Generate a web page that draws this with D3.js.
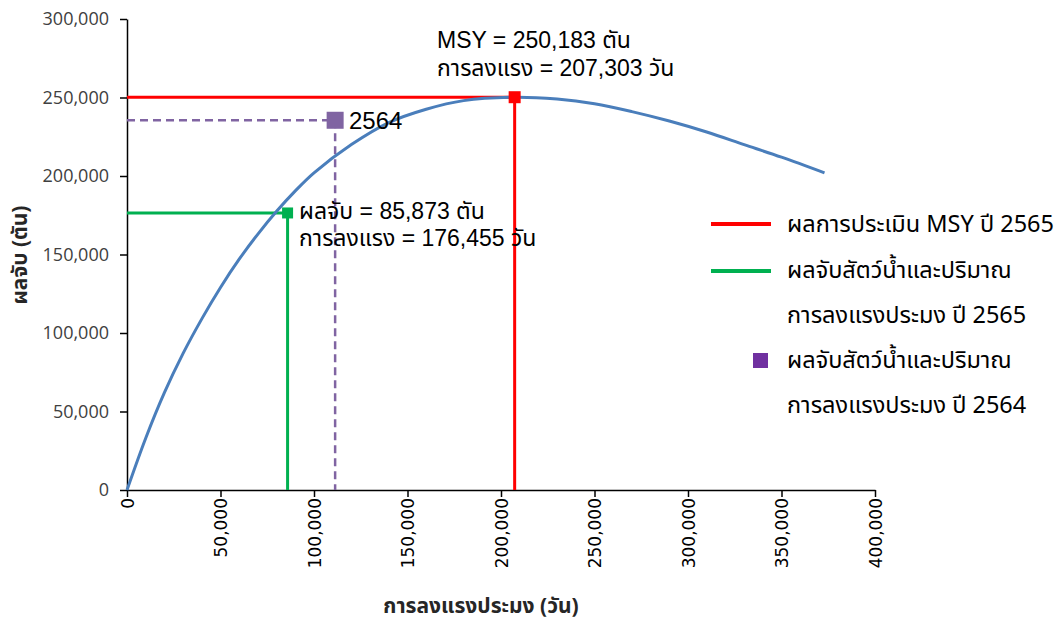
<!DOCTYPE html>
<html>
<head>
<meta charset="utf-8">
<script src="https://cdn.jsdelivr.net/npm/d3@7/dist/d3.min.js"></script>
<style>
  html, body { margin: 0; padding: 0; background: #fff; }
  svg { display: block; }
  .thai { font-family: "Noto Sans Thai", Tahoma, "Leelawadee UI", "DejaVu Sans", "Noto Sans", sans-serif; }
  .mixed { font-family: "Liberation Sans", Arial, "Noto Sans Thai", Tahoma, sans-serif; }
</style>
</head>
<body>
<svg id="chart" width="1064" height="621"></svg>
<script>
// Surplus production curve: fishing effort (days) vs catch (tonnes)
const curveEffort = [0, 10000, 20000, 30000, 40000, 50000, 60000, 70000, 80000, 90000,
  100000, 120000, 140000, 160000, 180000, 207303, 230000, 250000, 270000, 290000,
  310000, 330000, 350000, 373000];
const curveCatch = [0, 33000, 62000, 87000, 109000, 129000, 147000, 163000, 177500, 190500,
  202000, 220000, 234000, 242500, 248000, 250183, 249000, 246000, 241000, 235000,
  228000, 220000, 212000, 202000];

// MSY estimate, 2565
const msyEffort = 207303;
const msyCatch = 250183;
// Observed point 2565
const obs2565X = 85873;
const obs2565Y = 176455;
// Observed point 2564
const obs2564X = 111300;
const obs2564Y = 235500;

const xTicks = [0, 50000, 100000, 150000, 200000, 250000, 300000, 350000, 400000];
const yTicks = [0, 50000, 100000, 150000, 200000, 250000, 300000];

const legendLabels = [
  ["ผลการประเมิน MSY ปี 2565"],
  ["ผลจับสัตว์น้ำและปริมาณ", "การลงแรงประมง ปี 2565"],
  ["ผลจับสัตว์น้ำและปริมาณ", "การลงแรงประมง ปี 2564"]
];

const RED = "#ff0000", GREEN = "#00b050", PURPLE = "#8064a2", PURPLE_LEG = "#7030a0", BLUE = "#4a7ebb";
const fmt = d3.format(",");

const svg = d3.select("#chart");
const x = d3.scaleLinear().domain([0, 400000]).range([127, 875]);
const y = d3.scaleLinear().domain([0, 300000]).range([490, 19]);

// Axes
const yAxis = svg.append("g")
  .attr("transform", `translate(${x(0)},0)`)
  .call(d3.axisLeft(y).tickValues(yTicks).tickFormat(fmt).tickSize(7).tickPadding(11).tickSizeOuter(0));
yAxis.select(".domain").attr("stroke", "#000").attr("stroke-width", 1.5);
yAxis.selectAll(".tick line").attr("stroke", "#000").attr("stroke-width", 1.5);
yAxis.selectAll(".tick text").attr("font-family", "'Open Sans', sans-serif")
  .attr("font-size", 18).attr("fill", "#404040");

const xAxis = svg.append("g")
  .attr("transform", `translate(0,${y(0)})`)
  .call(d3.axisBottom(x).tickValues(xTicks).tickFormat(fmt).tickSize(7).tickSizeOuter(0));
xAxis.select(".domain").attr("stroke", "#000").attr("stroke-width", 1.5);
xAxis.selectAll(".tick line").attr("stroke", "#000").attr("stroke-width", 1.5);
xAxis.selectAll(".tick text")
  .attr("font-family", "'DejaVu Sans', sans-serif").attr("font-size", 17).attr("fill", "#000")
  .attr("transform", "rotate(-90)")
  .attr("x", -8).attr("y", 0).attr("dy", "0.36em")
  .attr("text-anchor", "end");

// Axis titles
svg.append("text").attr("class", "thai")
  .attr("x", 481).attr("y", 613).attr("text-anchor", "middle")
  .attr("font-size", 21).attr("font-weight", "bold").attr("fill", "#262626")
  .text("การลงแรงประมง (วัน)");
svg.append("text").attr("class", "thai")
  .attr("transform", "translate(27,255) rotate(-90)").attr("text-anchor", "middle")
  .attr("font-size", 21).attr("font-weight", "bold").attr("fill", "#262626")
  .text("ผลจับ (ตัน)");

// Reference lines
svg.append("path")
  .attr("d", d3.line()([[x(0), y(msyCatch)], [x(msyEffort), y(msyCatch)], [x(msyEffort), y(0)]]))
  .attr("fill", "none").attr("stroke", RED).attr("stroke-width", 3);
svg.append("path")
  .attr("d", d3.line()([[x(0), y(obs2565Y)], [x(obs2565X), y(obs2565Y)], [x(obs2565X), y(0)]]))
  .attr("fill", "none").attr("stroke", GREEN).attr("stroke-width", 3);
svg.append("path")
  .attr("d", d3.line()([[x(0), y(obs2564Y)], [x(obs2564X), y(obs2564Y)], [x(obs2564X), y(0)]]))
  .attr("fill", "none").attr("stroke", PURPLE).attr("stroke-width", 2.5).attr("stroke-dasharray", "8,5");

// Production curve
const pts = curveEffort.map((e, i) => [e, curveCatch[i]]);
svg.append("path")
  .datum(pts)
  .attr("d", d3.line().x(d => x(d[0])).y(d => y(d[1])).curve(d3.curveCatmullRom.alpha(0.5)))
  .attr("fill", "none").attr("stroke", BLUE).attr("stroke-width", 3);

// Markers
function square(cx, cy, s, color) {
  svg.append("rect").attr("x", cx - s / 2).attr("y", cy - s / 2)
    .attr("width", s).attr("height", s).attr("fill", color);
}
square(x(msyEffort), y(msyCatch), 12, RED);
square(x(obs2565X), y(obs2565Y), 11, GREEN);
square(x(obs2564X), y(obs2564Y), 17, PURPLE);

// Annotations
const ann = svg.append("g").attr("class", "mixed").attr("font-size", 23).attr("fill", "#000");
ann.append("text").attr("x", 437).attr("y", 48).text(`MSY = ${fmt(msyCatch)} ตัน`);
ann.append("text").attr("x", 437).attr("y", 76).text(`การลงแรง = ${fmt(msyEffort)} วัน`);
ann.append("text").attr("x", 299).attr("y", 219).text(`ผลจับ = ${fmt(obs2565X)} ตัน`);
ann.append("text").attr("x", 299).attr("y", 246).text(`การลงแรง = ${fmt(obs2565Y)} วัน`);
ann.append("text").attr("x", 349).attr("y", 129).attr("font-size", 24).text("2564");

// Legend
const leg = svg.append("g").attr("class", "thai").attr("font-size", 23.5).attr("fill", "#000");
leg.append("line").attr("x1", 711).attr("x2", 771).attr("y1", 224).attr("y2", 224)
  .attr("stroke", RED).attr("stroke-width", 4);
leg.append("line").attr("x1", 711).attr("x2", 771).attr("y1", 271).attr("y2", 271)
  .attr("stroke", GREEN).attr("stroke-width", 4);
leg.append("rect").attr("x", 753).attr("y", 353).attr("width", 15).attr("height", 15).attr("fill", PURPLE_LEG);
const legBaselines = [[232], [278, 323], [368, 413]];
legendLabels.forEach((lines, i) => {
  lines.forEach((t, j) => {
    leg.append("text").attr("x", 787).attr("y", legBaselines[i][j]).text(t);
  });
});
</script>
</body>
</html>
